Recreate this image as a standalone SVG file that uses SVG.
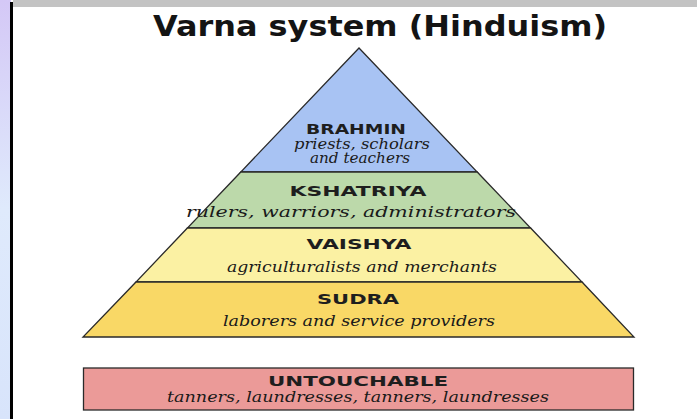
<svg xmlns="http://www.w3.org/2000/svg" width="697" height="419" viewBox="0 0 697 419">
<defs>
<linearGradient id="side" x1="0" y1="0" x2="0" y2="1">
<stop offset="0" stop-color="#d4c8f6"/>
<stop offset="0.5" stop-color="#dfeafc"/>
<stop offset="1" stop-color="#d8e4fb"/>
</linearGradient>
</defs>
<style>
.band{stroke:#2a2a2a;stroke-width:1.3;stroke-linejoin:miter}
.h{font-family:"DejaVu Sans",Verdana,sans-serif;font-weight:bold;fill:#141414;text-anchor:middle}
.t{font-family:"DejaVu Sans",Verdana,sans-serif;font-weight:bold;fill:#1e1e1e;text-anchor:middle;font-size:14.5px}
.s{font-family:"DejaVu Serif","Liberation Serif",serif;font-style:italic;fill:#1a1a1a;text-anchor:middle;font-size:15px}
</style>
<rect x="0" y="0" width="697" height="419" fill="#ffffff"/>
<rect x="0" y="0" width="11" height="419" fill="url(#side)"/>
<rect x="13" y="0" width="684" height="7" fill="#c3c3c3"/>
<rect x="10" y="2" width="3" height="417" fill="#000000"/>
<text x="380" y="36" class="h" font-size="29" textLength="454" lengthAdjust="spacingAndGlyphs">Varna system (Hinduism)</text>
<g id="brahmin">
<polygon class="band" points="359,48 477.2,172 240.8,172" fill="#a8c3f3"/>
<text x="356" y="134" class="t" textLength="100" lengthAdjust="spacingAndGlyphs">BRAHMIN</text>
<text x="362" y="149" class="s" textLength="136" lengthAdjust="spacingAndGlyphs">priests, scholars</text>
<text x="360" y="163" class="s" textLength="100" lengthAdjust="spacingAndGlyphs">and teachers</text>
</g>
<g id="kshatriya">
<polygon class="band" points="240.8,172 477.2,172 530.6,228 187.4,228" fill="#bcd9aa"/>
<text x="358" y="196" class="t" textLength="137" lengthAdjust="spacingAndGlyphs">KSHATRIYA</text>
<text x="351" y="217" class="s" textLength="330" lengthAdjust="spacingAndGlyphs">rulers, warriors, administrators</text>
</g>
<g id="vaishya">
<polygon class="band" points="187.4,228 530.6,228 582,282 136,282" fill="#fbf1a3"/>
<text x="359" y="249" class="t" textLength="105" lengthAdjust="spacingAndGlyphs">VAISHYA</text>
<text x="362" y="272" class="s" textLength="270" lengthAdjust="spacingAndGlyphs">agriculturalists and merchants</text>
</g>
<g id="sudra">
<polygon class="band" points="136,282 582,282 634,337 83,337" fill="#f9d866"/>
<text x="358" y="304" class="t" textLength="82" lengthAdjust="spacingAndGlyphs">SUDRA</text>
<text x="359" y="326" class="s" textLength="272" lengthAdjust="spacingAndGlyphs">laborers and service providers</text>
</g>
<g id="untouchable">
<rect class="band" x="83.5" y="368" width="550" height="42" fill="#eb9a98"/>
<text x="358" y="386" class="t" textLength="180" lengthAdjust="spacingAndGlyphs">UNTOUCHABLE</text>
<text x="358" y="402" class="s" textLength="382" lengthAdjust="spacingAndGlyphs">tanners, laundresses, tanners, laundresses</text>
</g>
<g id="connectors"/>
</svg>
